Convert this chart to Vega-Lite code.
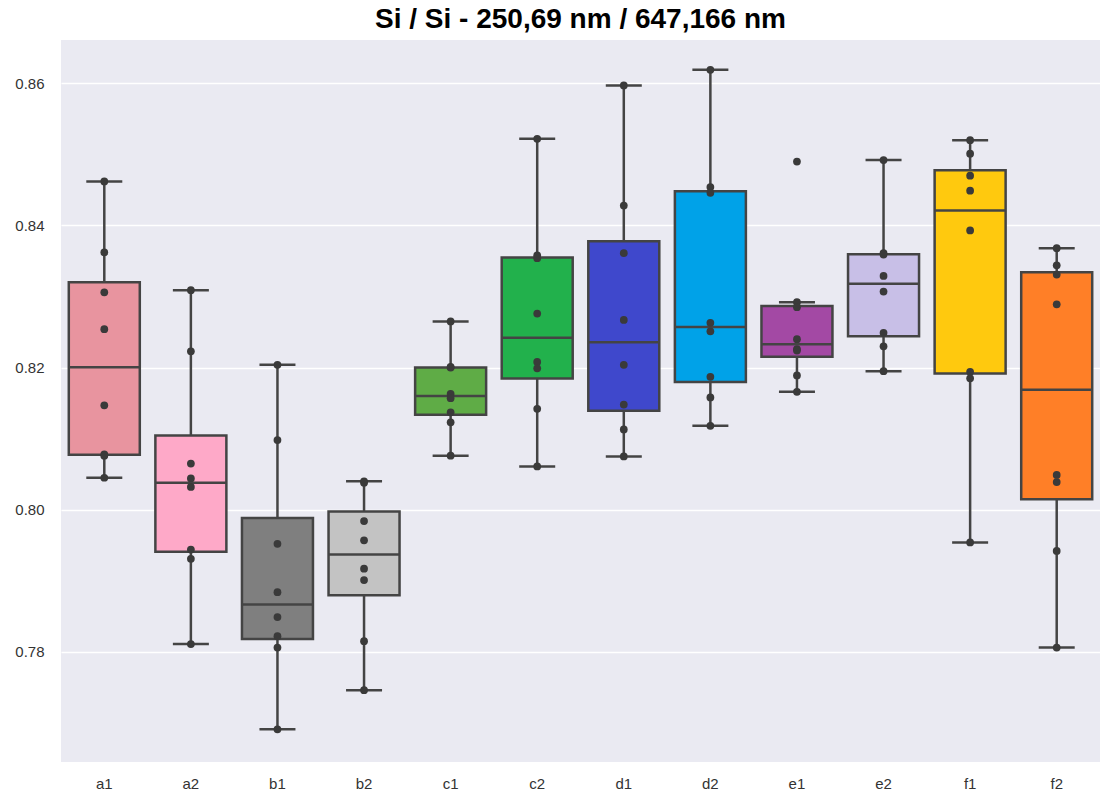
{
  "$schema": "https://vega.github.io/schema/vega-lite/v6.json",
  "autosize": "none",
  "padding": {"left": 61, "top": 40, "right": 5, "bottom": 37},
  "width": 1039,
  "height": 722,
  "background": "white",
  "title": {"text": "Si / Si - 250,69 nm / 647,166 nm", "font": "Liberation Sans", "fontSize": 28, "fontWeight": "bold", "color": "black", "anchor": "middle", "offset": 6},
  "data": {"values": [
    {"g": "a1", "v": 0.8462}, {"g": "a1", "v": 0.8362}, {"g": "a1", "v": 0.8306}, {"g": "a1", "v": 0.8254}, {"g": "a1", "v": 0.8147}, {"g": "a1", "v": 0.8078}, {"g": "a1", "v": 0.8076}, {"g": "a1", "v": 0.8045},
    {"g": "a2", "v": 0.8309}, {"g": "a2", "v": 0.8223}, {"g": "a2", "v": 0.8065}, {"g": "a2", "v": 0.8044}, {"g": "a2", "v": 0.8032}, {"g": "a2", "v": 0.7944}, {"g": "a2", "v": 0.7931}, {"g": "a2", "v": 0.7811},
    {"g": "b1", "v": 0.8204}, {"g": "b1", "v": 0.8098}, {"g": "b1", "v": 0.7952}, {"g": "b1", "v": 0.7884}, {"g": "b1", "v": 0.7849}, {"g": "b1", "v": 0.7822}, {"g": "b1", "v": 0.7806}, {"g": "b1", "v": 0.7691},
    {"g": "b2", "v": 0.8040}, {"g": "b2", "v": 0.8038}, {"g": "b2", "v": 0.7984}, {"g": "b2", "v": 0.7957}, {"g": "b2", "v": 0.7917}, {"g": "b2", "v": 0.7901}, {"g": "b2", "v": 0.7815}, {"g": "b2", "v": 0.7746},
    {"g": "c1", "v": 0.8265}, {"g": "c1", "v": 0.8201}, {"g": "c1", "v": 0.8200}, {"g": "c1", "v": 0.8163}, {"g": "c1", "v": 0.8157}, {"g": "c1", "v": 0.8137}, {"g": "c1", "v": 0.8123}, {"g": "c1", "v": 0.8076},
    {"g": "c2", "v": 0.8522}, {"g": "c2", "v": 0.8358}, {"g": "c2", "v": 0.8354}, {"g": "c2", "v": 0.8276}, {"g": "c2", "v": 0.8208}, {"g": "c2", "v": 0.8199}, {"g": "c2", "v": 0.8142}, {"g": "c2", "v": 0.8061},
    {"g": "d1", "v": 0.8597}, {"g": "d1", "v": 0.8428}, {"g": "d1", "v": 0.8361}, {"g": "d1", "v": 0.8267}, {"g": "d1", "v": 0.8204}, {"g": "d1", "v": 0.8148}, {"g": "d1", "v": 0.8113}, {"g": "d1", "v": 0.8075},
    {"g": "d2", "v": 0.8619}, {"g": "d2", "v": 0.8454}, {"g": "d2", "v": 0.8446}, {"g": "d2", "v": 0.8263}, {"g": "d2", "v": 0.8251}, {"g": "d2", "v": 0.8187}, {"g": "d2", "v": 0.8158}, {"g": "d2", "v": 0.8118},
    {"g": "e1", "v": 0.8490}, {"g": "e1", "v": 0.8292}, {"g": "e1", "v": 0.8285}, {"g": "e1", "v": 0.8240}, {"g": "e1", "v": 0.8226}, {"g": "e1", "v": 0.8224}, {"g": "e1", "v": 0.8189}, {"g": "e1", "v": 0.8166},
    {"g": "e2", "v": 0.8492}, {"g": "e2", "v": 0.8361}, {"g": "e2", "v": 0.8359}, {"g": "e2", "v": 0.8329}, {"g": "e2", "v": 0.8307}, {"g": "e2", "v": 0.8249}, {"g": "e2", "v": 0.8230}, {"g": "e2", "v": 0.8195},
    {"g": "f1", "v": 0.8520}, {"g": "f1", "v": 0.8501}, {"g": "f1", "v": 0.8470}, {"g": "f1", "v": 0.8449}, {"g": "f1", "v": 0.8393}, {"g": "f1", "v": 0.8194}, {"g": "f1", "v": 0.8185}, {"g": "f1", "v": 0.7954},
    {"g": "f2", "v": 0.8368}, {"g": "f2", "v": 0.8344}, {"g": "f2", "v": 0.8331}, {"g": "f2", "v": 0.8289}, {"g": "f2", "v": 0.8049}, {"g": "f2", "v": 0.8039}, {"g": "f2", "v": 0.7942}, {"g": "f2", "v": 0.7806}
  ]},
  "encoding": {
    "x": {"field": "g", "type": "nominal", "sort": null, "title": null,
          "scale": {"paddingInner": 0, "paddingOuter": 0},
          "axis": {"labelAngle": 0, "labelFont": "Liberation Sans", "labelFontSize": 15, "labelColor": "#333333", "labelPadding": 14, "domain": false, "ticks": false, "grid": false}},
    "y": {"field": "v", "type": "quantitative", "title": null,
          "scale": {"domain": [0.7645, 0.8661], "nice": false, "zero": false},
          "axis": {"values": [0.78, 0.8, 0.82, 0.84, 0.86], "format": ".2f", "labelFont": "Liberation Sans", "labelFontSize": 15, "labelColor": "#333333", "labelPadding": 17, "domain": false, "ticks": false, "grid": true, "gridColor": "white", "gridWidth": 1.5}}
  },
  "layer": [
    {
      "mark": {"type": "boxplot", "extent": 1.5, "size": 71, "outliers": false,
               "box": {"stroke": "#444444", "strokeWidth": 2.5, "opacity": 1},
               "median": {"color": "#444444", "thickness": 2.5, "opacity": 1},
               "rule": {"color": "#444444", "strokeWidth": 2.5, "opacity": 1},
               "ticks": {"color": "#444444", "size": 36, "thickness": 2.5, "opacity": 1}},
      "encoding": {
        "color": {"field": "g", "type": "nominal", "legend": null,
                  "scale": {"domain": ["a1","a2","b1","b2","c1","c2","d1","d2","e1","e2","f1","f2"],
                            "range": ["#E8949F","#FEA9C8","#7F7F7F","#C3C3C3","#5FAC46","#22B14C","#3F48CC","#00A2E8","#A349A4","#C8BFE7","#FFC90E","#FF7F27"]}}
      }
    },
    {
      "mark": {"type": "circle", "size": 60, "color": "#3A3A3A", "opacity": 1}
    }
  ],
  "config": {"view": {"fill": "#EAEAF2", "stroke": null}}
}
